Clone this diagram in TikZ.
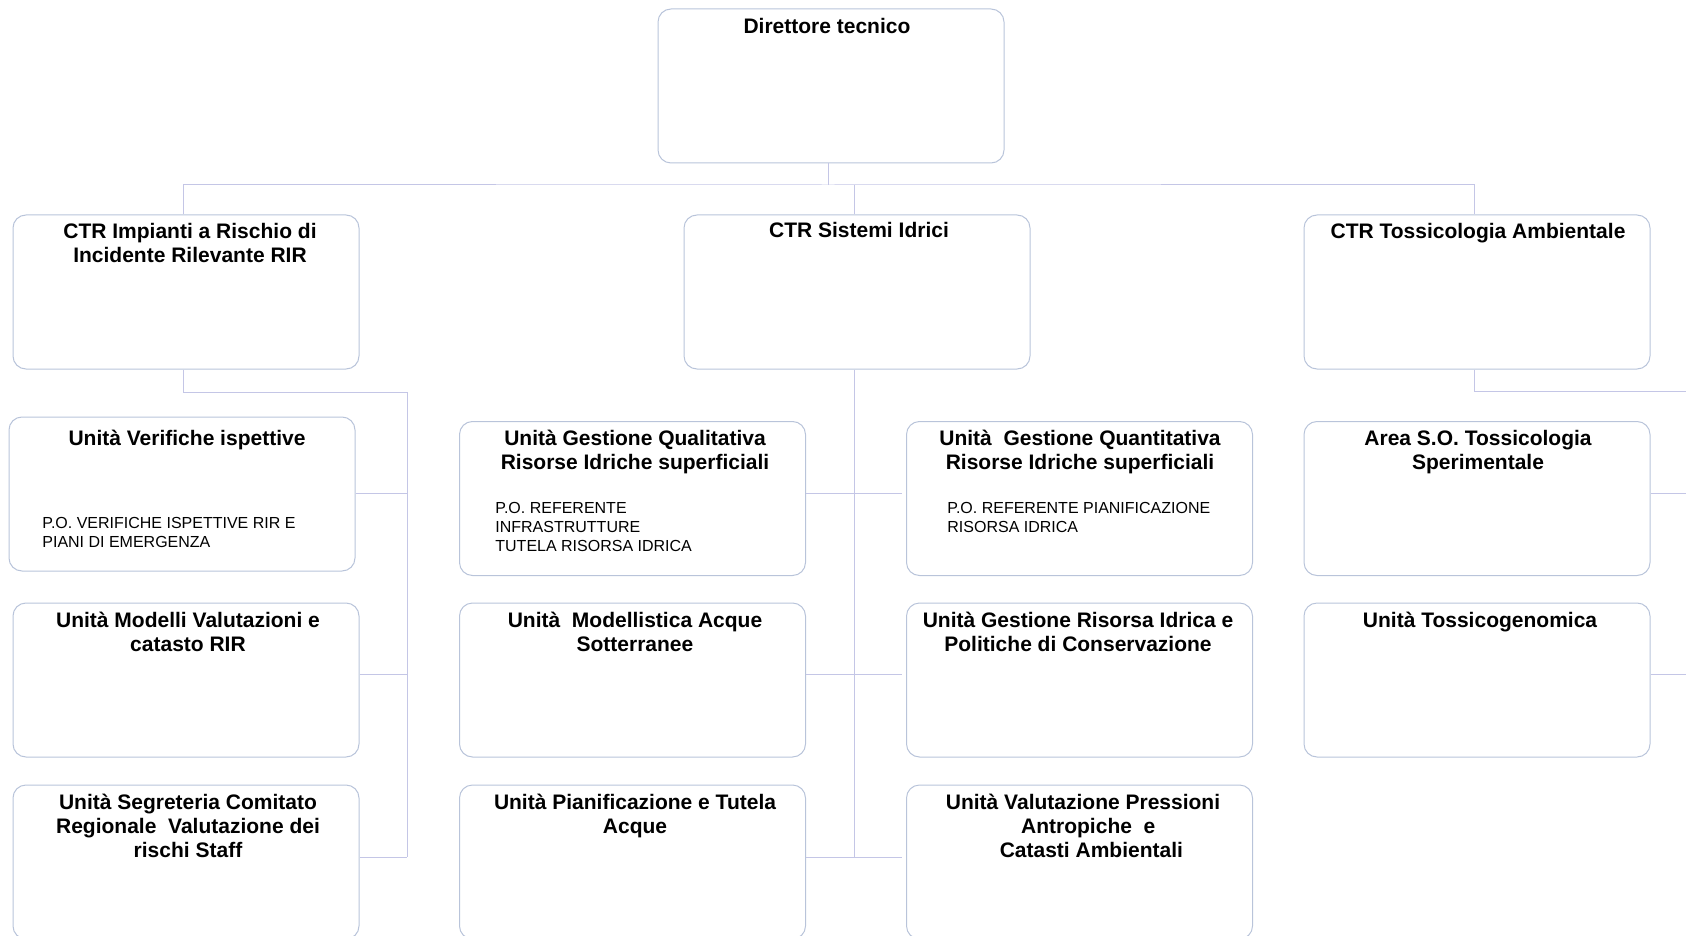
\documentclass[tikz,border=0pt]{standalone}
\usepackage{fontspec}
\setmainfont{Liberation Sans}
\definecolor{boxline}{RGB}{185,196,218}
\definecolor{linkline}{RGB}{196,198,230}
\tikzset{
  unitbox/.style={draw=boxline, line width=0.5pt, rounded corners=6.5pt,
    minimum width=173pt, minimum height=77pt, inner sep=0pt},
  boxtitle/.style={anchor=north, align=center, inner sep=0pt,
    font=\bfseries\fontsize{10.5}{12}\selectfont},
  potext/.style={anchor=north west, align=left, inner sep=0pt,
    font=\fontsize{8}{9.5}\selectfont},
  link/.style={draw=linkline, line width=0.5pt}
}
\begin{document}
\begin{tikzpicture}[x=0.5pt, y=-0.5pt]
  \useasboundingbox (0,0) rectangle (1686,936);
  % boxes
  \node[unitbox] (dir) at (831,86) {};
  \node[unitbox] (rir) at (186,292) {};
  \node[unitbox] (idr) at (857,292) {};
  \node[unitbox] (tox) at (1477,292) {};
  \node[unitbox] (ver) at (182,494) {};
  \node[unitbox] (gql) at (632.5,498.5) {};
  \node[unitbox] (gqn) at (1079.5,498.5) {};
  \node[unitbox] (aso) at (1477,498.5) {};
  \node[unitbox] (mod) at (186,680) {};
  \node[unitbox] (mac) at (632.5,680) {};
  \node[unitbox] (gri) at (1079.5,680) {};
  \node[unitbox] (tgn) at (1477,680) {};
  \node[unitbox] (seg) at (186,862) {};
  \node[unitbox] (pia) at (632.5,862) {};
  \node[unitbox] (val) at (1079.5,862) {};
  % titles
  \node[boxtitle] (dirT) at (827,17.7) {Direttore tecnico};
  \node[boxtitle] (rirT) at (190,222.7) {CTR Impianti a Rischio di\\Incidente Rilevante RIR};
  \node[boxtitle] (idrT) at (859,221.7) {CTR Sistemi Idrici};
  \node[boxtitle] (toxT) at (1478,222.7) {CTR Tossicologia Ambientale};
  \node[boxtitle] (verT) at (187,429.7) {Unità Verifiche ispettive};
  \node[boxtitle] (gqlT) at (635,429.7) {Unità Gestione Qualitativa\\Risorse Idriche superficiali};
  \node[boxtitle] (gqnT) at (1080,429.2) {Unità\ \ Gestione Quantitativa\\Risorse Idriche superficiali};
  \node[boxtitle] (asoT) at (1478,429.7) {Area S.O. Tossicologia\\Sperimentale};
  \node[boxtitle] (modT) at (188,611.7) {Unità Modelli Valutazioni e\\catasto RIR};
  \node[boxtitle] (macT) at (635,611.7) {Unità\ \ Modellistica Acque\\Sotterranee};
  \node[boxtitle] (griT) at (1078,611.7) {Unità Gestione Risorsa Idrica e\\Politiche di Conservazione};
  \node[boxtitle] (tgnT) at (1480,611.7) {Unità Tossicogenomica};
  \node[boxtitle] (segT) at (188,794) {Unità Segreteria Comitato\\Regionale\ \ Valutazione dei\\rischi Staff};
  \node[boxtitle] (piaT) at (635,793.7) {Unità Pianificazione e Tutela\\Acque};
  \node[boxtitle] (valT) at (1083,793.7) {Unità Valutazione Pressioni\\\hspace*{0.5em}Antropiche\ \ e\\\hspace*{0.8em}Catasti Ambientali};
  % P.O. lines
  \node[potext] (verP) at (42,516.5) {P.O. VERIFICHE ISPETTIVE RIR E\\PIANI DI EMERGENZA};
  \node[potext] (gqlP) at (495,501.5) {P.O. REFERENTE\\INFRASTRUTTURE\\TUTELA RISORSA IDRICA};
  \node[potext] (gqnP) at (947,501.5) {P.O. REFERENTE PIANIFICAZIONE\\RISORSA IDRICA};
  % top level
  \coordinate (bus) at (828,185);
  \draw[link] ([xshift=-1.5pt]rir.north) |- (bus) -| ([xshift=-1.5pt]tox.north);
  \draw[link] ([xshift=-1.5pt]dir.south) -- ([xshift=-1.5pt]dir.south |- bus);
  \draw[link] ([xshift=-1.5pt]idr.north) -- ([xshift=-1.5pt]idr.north |- bus);
  % CTR RIR
  \coordinate (rirknee) at (407,392);
  \draw[link] ([xshift=-1.5pt]rir.south) |- (rirknee) -- ([yshift=2.5pt]rirknee |- seg.east);
  \foreach \u/\s in {ver/0.5pt, mod/3pt, seg/2.5pt}
    \draw[link] ([yshift=\s]\u.east) -- ([yshift=\s]\u.east -| rirknee);
  % CTR Sistemi Idrici
  \draw[link] ([xshift=-1.5pt]idr.south) -- ([xshift=-1.5pt, yshift=2.5pt]idr.south |- pia.east);
  \foreach \a/\b/\s in {gql/gqn/2.75pt, mac/gri/3pt, pia/val/2.5pt}
    \draw[link, shorten >=2pt] ([yshift=\s]\a.east) -- ([yshift=\s]\b.west);
  % CTR Tossicologia
  \coordinate (toxedge) at (1686,391);
  \draw[link] ([xshift=-1.5pt]tox.south) |- (toxedge);
  \foreach \u/\s in {aso/2.75pt, tgn/3pt}
    \draw[link] ([yshift=\s]\u.east) -- ([yshift=\s]\u.east -| toxedge);
\end{tikzpicture}
\end{document}
